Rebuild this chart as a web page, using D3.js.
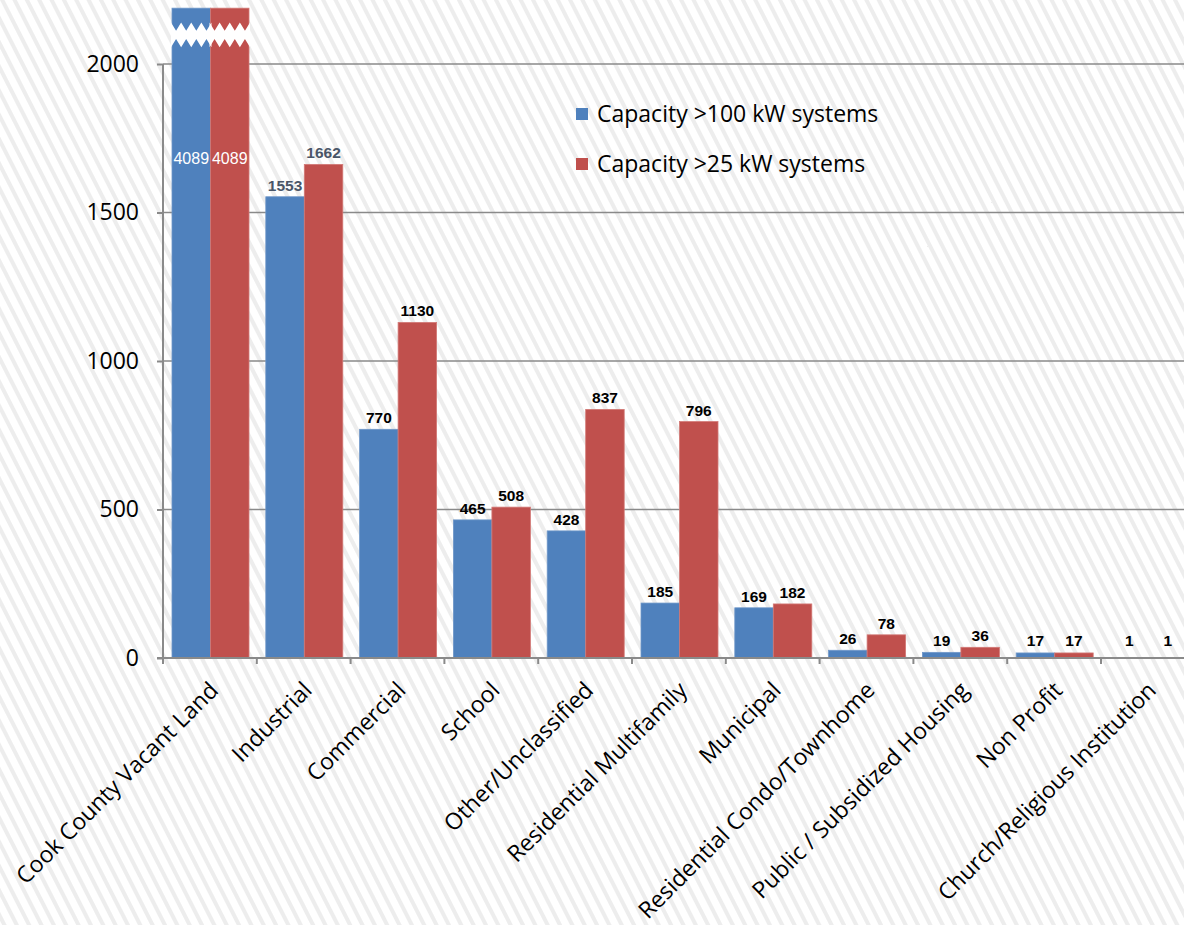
<!DOCTYPE html>
<html>
<head>
<meta charset="utf-8">
<script src="https://cdn.jsdelivr.net/npm/d3@7"></script>
<style>
  body { margin: 0; background: #fff; }
  svg { display: block; }
</style>
</head>
<body>
<div id="chart"></div>
<script>
var width = 1184;
var height = 925;

// data
var categories = ["Cook County Vacant Land", "Industrial", "Commercial", "School",
  "Other/Unclassified", "Residential Multifamily", "Municipal",
  "Residential Condo/Townhome", "Public / Subsidized Housing", "Non Profit",
  "Church/Religious Institution"];
var seriesNames = ["Capacity >100 kW systems", "Capacity >25 kW systems"];
var cap100 = [4089, 1553, 770, 465, 428, 185, 169, 26, 19, 17, 1];
var cap25 = [4089, 1662, 1130, 508, 837, 796, 182, 78, 36, 17, 1];
var yTicks = [0, 500, 1000, 1500, 2000];
var colors = ["#4f81bd", "#c0504d"];
var strokes = ["#6f97c9", "#d27976"];

var txtFont = "'Open Sans', Lato, sans-serif";

var svg = d3.select("#chart")
  .append("svg")
  .attr("width", width)
  .attr("height", height);

var defs = svg.append("defs");

// striped background
var pat = defs.append("pattern")
  .attr("id", "stripes")
  .attr("patternUnits", "userSpaceOnUse")
  .attr("width", 11)
  .attr("height", 11)
  .attr("patternTransform", "rotate(-27)");
pat.append("rect").attr("width", 11).attr("height", 11).attr("fill", "#ffffff");
pat.append("rect").attr("width", 4).attr("height", 11).attr("fill", "#ededed");

svg.append("rect")
  .attr("width", width)
  .attr("height", height)
  .attr("fill", "url(#stripes)");

// scales
var x0 = 163, bandW = 93.8;
var x = d3.scaleBand()
  .domain(categories)
  .range([x0, x0 + categories.length * bandW]);
var xs = d3.scaleBand()
  .domain(seriesNames)
  .range([9, 86]);
var y = d3.scaleLinear()
  .domain([0, 2000])
  .range([658, 64]);

var axisMax = 2000;
var breakMax = 2188;   // where the broken bars end (above the axis)

// gridlines
svg.append("g")
  .selectAll("line")
  .data(yTicks.filter(function(d) { return d > 0; }))
  .enter().append("line")
  .attr("x1", x0)
  .attr("x2", width)
  .attr("y1", function(d) { return y(d); })
  .attr("y2", function(d) { return y(d); })
  .attr("stroke", "#8a8a8a")
  .attr("stroke-width", 1.6);

// bars
var rows = categories.map(function(c, i) {
  return { cat: c, vals: [cap100[i], cap25[i]] };
});

var groups = svg.append("g")
  .selectAll("g")
  .data(rows)
  .enter().append("g")
  .attr("transform", function(d) { return "translate(" + x(d.cat) + ",0)"; });

groups.selectAll("rect")
  .data(function(d) {
    return d.vals.map(function(v, j) { return { s: seriesNames[j], v: v, j: j }; });
  })
  .enter().append("rect")
  .attr("x", function(d) { return xs(d.s); })
  .attr("width", xs.bandwidth())
  .attr("y", function(d) { return y(Math.min(d.v, breakMax)); })
  .attr("height", function(d) { return y(0) - y(Math.min(d.v, breakMax)); })
  .attr("fill", function(d) { return colors[d.j]; })
  .attr("stroke", function(d) { return strokes[d.j]; })
  .attr("stroke-width", 0.8);

// zigzag break on bars that exceed the axis
var nTeeth = 4;
groups.each(function(row) {
  var g = d3.select(this);
  row.vals.forEach(function(v, j) {
    if (v <= axisMax) return;
    var bx = xs(seriesNames[j]) - 1, bw = xs.bandwidth() + 2, tw = bw / nTeeth;
    var upBase = y(2140), upTip = y(2112), loTip = y(2084), loBase = y(2056);
    var pts = [];
    for (var k = 0; k <= nTeeth; k++) {
      pts.push([bx + k * tw, upBase]);
      if (k < nTeeth) pts.push([bx + (k + 0.5) * tw, upTip]);
    }
    for (var k2 = nTeeth; k2 >= 0; k2--) {
      pts.push([bx + k2 * tw, loBase]);
      if (k2 > 0) pts.push([bx + (k2 - 0.5) * tw, loTip]);
    }
    g.append("polygon")
      .attr("points", pts.map(function(p) { return p.join(","); }).join(" "))
      .attr("fill", "#ffffff");
  });
});

// value labels
var labelColor = function(d, i) {
  if (d.v > axisMax) return "#ffffff";
  if (i === 1) return "#4a5668";
  return "#000000";
};
groups.selectAll("text")
  .data(function(d, i) {
    return d.vals.map(function(v, j) { return { s: seriesNames[j], v: v, j: j, i: i }; });
  })
  .enter().append("text")
  .attr("x", function(d) { return xs(d.s) + xs.bandwidth() / 2; })
  .attr("y", function(d) {
    if (d.v > axisMax) return y(1663);
    return Math.min(y(d.v) - 6, y(0) - 12);
  })
  .attr("text-anchor", "middle")
  .style("font-family", "'Liberation Sans', Arial, sans-serif")
  .style("font-size", function(d) { return d.v > axisMax ? "16px" : "15.5px"; })
  .style("font-weight", function(d) { return d.v > axisMax ? "normal" : "bold"; })
  .attr("fill", function(d) { return labelColor(d, d.i); })
  .text(function(d) { return d.v; });

// y axis
var yAxis = d3.axisLeft(y)
  .tickValues(yTicks)
  .tickFormat(d3.format("d"))
  .tickSize(6)
  .tickPadding(18);
var yg = svg.append("g")
  .attr("transform", "translate(" + x0 + ",0)")
  .call(yAxis);
yg.select(".domain").remove();
yg.selectAll(".tick line").attr("stroke", "#8a8a8a").attr("stroke-width", 2);
yg.selectAll(".tick text")
  .style("font-family", txtFont)
  .style("font-size", "23px")
  .attr("fill", "#000");
yg.append("line")
  .attr("x1", 0).attr("x2", 0)
  .attr("y1", y(axisMax)).attr("y2", y(0) + 6)
  .attr("stroke", "#8a8a8a")
  .attr("stroke-width", 2);

// x axis
var xg = svg.append("g");
xg.append("line")
  .attr("x1", x0 - 6).attr("x2", width)
  .attr("y1", y(0)).attr("y2", y(0))
  .attr("stroke", "#8a8a8a")
  .attr("stroke-width", 2);
xg.selectAll("line.tk")
  .data(categories.slice(1))
  .enter().append("line")
  .attr("class", "tk")
  .attr("x1", function(d) { return x(d); })
  .attr("x2", function(d) { return x(d); })
  .attr("y1", y(0)).attr("y2", y(0) + 6)
  .attr("stroke", "#8a8a8a")
  .attr("stroke-width", 2);

xg.selectAll("text")
  .data(categories)
  .enter().append("text")
  .attr("transform", function(d) {
    return "translate(" + (x(d) + x.bandwidth() / 2 + 4) + "," + (y(0) + 28) + ") rotate(-45)";
  })
  .attr("text-anchor", "end")
  .attr("dy", "0.35em")
  .style("font-family", txtFont)
  .style("font-size", "23px")
  .attr("fill", "#000")
  .text(function(d) { return d; });

// legend
var legend = svg.append("g")
  .attr("transform", "translate(576,114)");
var li = legend.selectAll("g")
  .data(seriesNames)
  .enter().append("g")
  .attr("transform", function(d, i) { return "translate(0," + (i * 50) + ")"; });
li.append("rect")
  .attr("x", 0).attr("y", -6)
  .attr("width", 12).attr("height", 12)
  .attr("fill", function(d, i) { return colors[i]; });
li.append("text")
  .attr("x", 21)
  .attr("dy", "0.35em")
  .style("font-family", txtFont)
  .style("font-size", "23px")
  .attr("fill", "#000")
  .text(function(d) { return d; });
</script>
</body>
</html>
